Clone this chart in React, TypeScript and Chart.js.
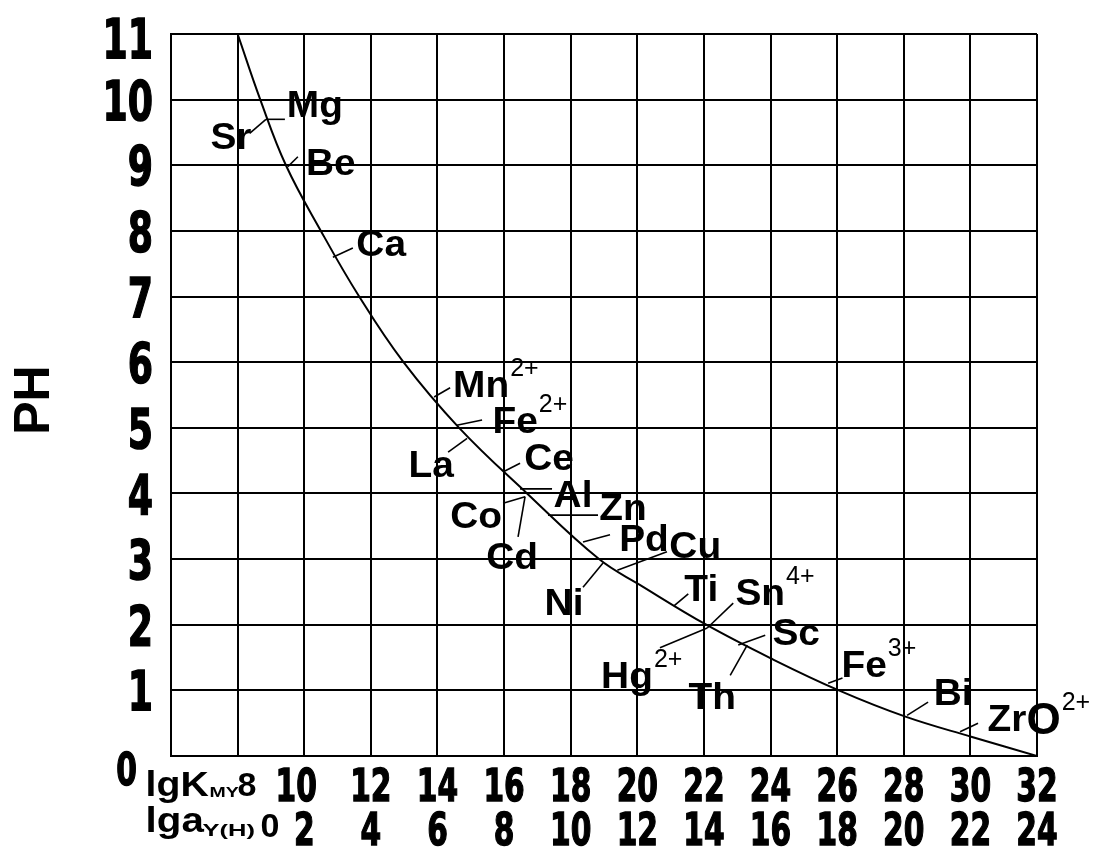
import React, { useEffect, useRef } from "react";
import { Chart, registerables } from "chart.js";
Chart.register(...registerables);

// Acid-effect (Ringbom) curve: pH vs lgK_MY (lgα_Y(H) = lgK_MY - 8)
const curveLgK = [8.0, 8.68, 9.45, 10.5, 11.65, 12.98, 14.65, 16.69, 18.85, 20.1, 22.07, 24.0, 26.05, 28.05, 30.05, 32];
const curvePH = [11, 10, 9, 8, 7, 6, 5, 4, 3, 2.6, 2, 1.49, 1, 0.6, 0.29, 0];

const pHTicks = [0, 1, 2, 3, 4, 5, 6, 7, 8, 9, 10, 11];
const lgKTicks = [8, 10, 12, 14, 16, 18, 20, 22, 24, 26, 28, 30, 32];
const alphaTicks = [0, 2, 4, 6, 8, 10, 12, 14, 16, 18, 20, 22, 24];

// metal ion labels
const ionNames = ["Sr", "Mg", "Be", "Ca", "Mn", "Fe", "La", "Ce", "Al", "Zn", "Co", "Cd", "Pd", "Cu", "Ni", "Ti", "Sn", "Hg", "Th", "Sc", "Fe", "Bi", "Zr"];
const ionTail = ["", "", "", "", "", "", "", "", "", "", "", "", "", "", "", "", "", "", "", "", "", "", "O"];
const ionCharge = ["", "", "", "", "2+", "2+", "", "", "", "", "", "", "", "", "", "", "4+", "2+", "", "", "3+", "", "2+"];
const labelLgK = [7.80, 10.32, 10.80, 12.31, 15.31, 16.33, 13.81, 17.35, 18.07, 19.57, 15.16, 16.24, 20.20, 21.74, 17.80, 21.92, 23.69, 19.69, 22.25, 24.77, 26.81, 29.48, 31.10];
const labelPH = [9.45, 9.94, 9.05, 7.82, 5.67, 5.12, 4.45, 4.56, 3.99, 3.79, 3.67, 3.05, 3.32, 3.21, 2.35, 2.56, 2.50, 1.23, 0.91, 1.89, 1.40, 0.98, 0.58];
// leader lines
const leaderX0 = [8.37, 8.85, 9.51, 10.86, 13.90, 14.58, 14.32, 15.98, 16.48, 17.32, 15.97, 16.42, 18.37, 19.40, 18.37, 21.11, 22.10, 20.68, 22.79, 23.03, 25.73, 28.10, 29.69];
const leaderY0 = [9.49, 9.70, 8.98, 7.60, 5.47, 5.04, 4.63, 4.33, 4.07, 3.67, 3.85, 3.34, 3.26, 2.83, 2.57, 2.29, 1.95, 1.65, 1.23, 1.69, 1.11, 0.62, 0.37];
const leaderX1 = [8.85, 9.42, 9.81, 11.46, 14.38, 15.34, 14.89, 16.48, 17.44, 18.82, 16.63, 16.63, 19.18, 20.89, 18.97, 21.53, 22.88, 22.10, 23.30, 23.84, 26.16, 28.73, 30.23];
const leaderY1 = [9.70, 9.70, 9.13, 7.74, 5.61, 5.12, 4.84, 4.46, 4.07, 3.67, 3.95, 3.95, 3.37, 3.11, 2.94, 2.47, 2.33, 1.95, 1.69, 1.84, 1.19, 0.82, 0.50];

const SANS = "'Liberation Sans', Arial, sans-serif";
const HEAVY = "'DejaVu Sans', sans-serif";

function drawText(ctx: CanvasRenderingContext2D, text: string, x: number, y: number, font: string, align: CanvasTextAlign, sx = 1, heavy = false) {
  ctx.save();
  ctx.translate(x, y);
  ctx.scale(sx, 1);
  ctx.font = font;
  ctx.textAlign = align;
  ctx.textBaseline = "alphabetic";
  ctx.fillStyle = "#000";
  ctx.fillText(text, 0, 0);
  if (heavy) {
    ctx.strokeStyle = "#000";
    ctx.lineWidth = 1.5;
    ctx.strokeText(text, 0, 0);
  }
  ctx.restore();
}

const textPlugin = {
  id: "ringbomText",
  afterDraw(chart: any) {
    const ctx: CanvasRenderingContext2D = chart.ctx;
    const xs = chart.scales.x;
    const ys = chart.scales.y;
    const area = chart.chartArea;

    // y tick labels
    pHTicks.forEach((v) => {
      let y = ys.getPixelForValue(v);
      let size = 55;
      let right = area.left - 18;
      if (v === pHTicks[pHTicks.length - 1]) y = Math.max(y, area.top + 4);
      if (v === 0) { size = 45; y = area.bottom + 13; right = area.left - 34; }
      drawText(ctx, String(v), right, y + size * 0.729 / 2, `bold ${size}px ${HEAVY}`, "right", 0.66, true);
    });

    // x tick labels, two rows
    const row1 = area.bottom + 45;
    const row2 = area.bottom + 89;
    lgKTicks.forEach((v, i) => {
      if (i === 0) return;
      const x = xs.getPixelForValue(v) + (i === 1 ? -8 : 0);
      drawText(ctx, String(v), x, row1, `bold 45px ${HEAVY}`, "center", 0.66, true);
    });
    alphaTicks.forEach((v, i) => {
      if (i === 0) return;
      const x = xs.getPixelForValue(lgKTicks[i]);
      drawText(ctx, String(v), x, row2, `bold 45px ${HEAVY}`, "center", 0.66, true);
    });
    const x8 = xs.getPixelForValue(lgKTicks[0]);
    drawText(ctx, "lgK", x8 - 92, area.bottom + 40, `bold 35px ${SANS}`, "left", 1.12);
    drawText(ctx, "MY", x8 - 28, area.bottom + 41, `bold 15px ${SANS}`, "left", 1.3);
    drawText(ctx, "8", x8, area.bottom + 40, `bold 34px ${SANS}`, "left");
    drawText(ctx, "lga", x8 - 92, area.bottom + 76, `bold 35px ${SANS}`, "left", 1.15);
    drawText(ctx, "Y(H)", x8 - 35, area.bottom + 80, `bold 17px ${SANS}`, "left", 1.5);
    drawText(ctx, String(alphaTicks[0]), x8 + 23, area.bottom + 81, `bold 34px ${SANS}`, "left");

    // y-axis title
    ctx.save();
    ctx.translate(35, (area.top + area.bottom) / 2 + 5);
    ctx.rotate(-Math.PI / 2);
    ctx.font = `bold 50px ${SANS}`;
    ctx.textAlign = "center";
    ctx.textBaseline = "middle";
    ctx.fillStyle = "#000";
    ctx.fillText("PH", 0, 0);
    ctx.restore();

    // ion labels
    const SX = 1.05;
    ionNames.forEach((name, i) => {
      const cx = xs.getPixelForValue(labelLgK[i]);
      const cy = ys.getPixelForValue(labelPH[i]);
      const mainFont = `bold 37px ${SANS}`;
      ctx.font = mainFont;
      const w = ctx.measureText(name).width * SX;
      const base = cy + 13;
      drawText(ctx, name, cx, base, mainFont, "center", SX);
      let right = cx + w / 2;
      if (ionTail[i]) {
        const tf = `bold 44px ${SANS}`;
        ctx.font = tf;
        const tw = ctx.measureText(ionTail[i]).width;
        drawText(ctx, ionTail[i], right, base + 3, tf, "left");
        right += tw;
      }
      if (ionCharge[i]) {
        drawText(ctx, ionCharge[i], right + 1, base - 21, `25px ${SANS}`, "left");
      }
    });
  },
};

export default function App() {
  const ref = useRef<HTMLCanvasElement>(null);
  useEffect(() => {
    const canvas = ref.current!;
    const leaderSets = ionNames.map((n, i) => ({
      label: n,
      data: [
        { x: leaderX0[i], y: leaderY0[i] },
        { x: leaderX1[i], y: leaderY1[i] },
      ],
      showLine: true,
      borderColor: "#000",
      borderWidth: 1.6,
      pointRadius: 0,
      tension: 0,
      fill: false,
    }));
    const chart = new Chart(canvas, {
      type: "scatter",
      data: {
        datasets: [
          {
            label: "pH",
            data: curveLgK.map((x, i) => ({ x, y: curvePH[i] })),
            showLine: true,
            borderColor: "#000",
            borderWidth: 2,
            pointRadius: 0,
            tension: 0.4,
            fill: false,
          } as any,
          ...leaderSets,
        ],
      },
      options: {
        animation: false,
        responsive: false,
        layout: { padding: { left: 171, right: 56, top: 34, bottom: 95 } },
        plugins: { legend: { display: false }, tooltip: { enabled: false } },
        scales: {
          x: {
            type: "linear",
            min: 6,
            max: 32,
            ticks: { stepSize: 2, display: false },
            grid: { color: "#000", lineWidth: 2, drawTicks: false },
            border: { color: "#000", width: 2 },
          },
          y: {
            type: "linear",
            min: 0,
            max: 11,
            ticks: { stepSize: 1, display: false },
            grid: { color: "#000", lineWidth: 2, drawTicks: false },
            border: { color: "#000", width: 2 },
          },
        },
      },
      plugins: [textPlugin],
    });
    return () => chart.destroy();
  }, []);
  return (
    <div style={{ position: "absolute", left: 0, top: 0, width: 1093, height: 851, background: "#fff" }}>
      <canvas ref={ref} width={1093} height={851} style={{ display: "block" }} />
    </div>
  );
}
